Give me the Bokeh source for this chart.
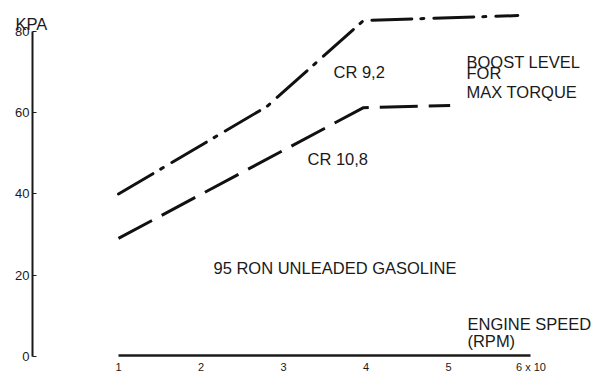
from bokeh.plotting import figure
from bokeh.models import FixedTicker, Range1d, ColumnDataSource
from bokeh.core.properties import value
from bokeh.embed import file_html
from bokeh.resources import INLINE

# Data (engine speed in x1000 rpm, boost in kPa)
cr92_speed = [1.0, 2.8, 3.97, 5.84]
cr92_kpa = [40.0, 61.5, 82.6, 83.8]
cr108_speed = [1.0, 3.97, 5.02]
cr108_kpa = [29.1, 61.2, 61.7]

x_ticks = [1, 2, 3, 4, 5, 6]
x_tick_labels = ["1", "2", "3", "4", "5", "6 x 10"]
y_ticks = [0, 20, 40, 60, 80]

ann_text = ["KPA", "CR 9,2", "BOOST LEVEL", "FOR", "MAX TORQUE", "CR 10,8",
            "95 RON UNLEADED GASOLINE", "ENGINE SPEED", "(RPM)"]
ann_x = [-0.248, 3.606, 5.218, 5.218, 5.218, 3.291, 2.152, 5.230, 5.230]
ann_y = [81.8, 70.0, 72.5, 69.6, 65.1, 48.6, 21.9, 8.2, 3.8]

FONT = "Liberation Sans"
INK = "#1a1a1a"

X0 = -0.042  # where the vertical axis sits
Y0 = 0.3     # where the horizontal axis sits

p = figure(width=596, height=375, output_backend="svg", toolbar_location=None,
           x_range=Range1d(X0 - 32 / 82.5, 6.794),
           y_range=Range1d(-4.56, 87.5),
           min_border_left=0, min_border_right=0, min_border_top=0,
           min_border_bottom=0)
p.outline_line_color = None
p.xgrid.visible = False
p.ygrid.visible = False
p.background_fill_color = "white"
p.border_fill_color = "white"

# y axis (left panel, drawn at a fixed data location)
ya = p.yaxis[0]
ya.fixed_location = X0
ya.ticker = FixedTicker(ticks=y_ticks)
ya.bounds = (0, 80)
ya.axis_line_width = 2
ya.axis_line_color = INK
ya.major_tick_in = 4
ya.major_tick_out = 0
ya.major_tick_line_color = INK
ya.minor_tick_line_color = None
ya.major_label_standoff = 3
ya.major_label_text_font = FONT
ya.major_label_text_font_size = "13px"
ya.major_label_text_color = INK

# x axis (below panel, drawn at a fixed data location)
xa = p.xaxis[0]
xa.fixed_location = Y0
xa.ticker = FixedTicker(ticks=x_ticks)
xa.major_label_overrides = {t: l for t, l in zip(x_ticks, x_tick_labels)}
xa.bounds = (1, 6)
xa.axis_line_width = 2.5
xa.axis_line_color = INK
xa.major_tick_in = 0
xa.major_tick_out = 0
xa.minor_tick_line_color = None
xa.major_label_standoff = 5
xa.major_label_text_font = FONT
xa.major_label_text_font_size = "11px"
xa.major_label_text_color = INK

# curves
p.line(cr92_speed, cr92_kpa, line_width=3, line_color="#111111",
       line_dash="40 9 3 10", line_cap="round")
p.line(cr108_speed, cr108_kpa, line_width=3, line_color="#111111",
       line_dash="38 11")

src = ColumnDataSource(dict(x=ann_x, y=ann_y, t=ann_text))
p.text(x="x", y="y", text="t", source=src, text_font=value(FONT),
       text_font_size="16.5px", text_color=INK, text_align="left",
       text_baseline="alphabetic")

open("out.html", "w").write(file_html(p, INLINE))
